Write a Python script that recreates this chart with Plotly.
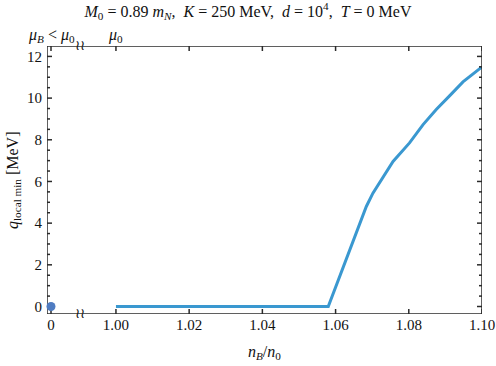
import plotly.graph_objects as go

# data
left_x = [0.0]
left_y = [0.0]
nb_ratio = [1.000, 1.010, 1.020, 1.030, 1.040, 1.050, 1.058, 1.0684, 1.0702, 1.0757,
            1.0802, 1.0839, 1.0875, 1.0912, 1.0948, 1.1000]
q_min = [0.0, 0.0, 0.0, 0.0, 0.0, 0.0, 0.0, 4.80, 5.44, 6.96,
         7.85, 8.73, 9.45, 10.12, 10.78, 11.50]
y_ticks = [0, 2, 4, 6, 8, 10, 12]
y_minor = [v * 0.5 for v in range(0, 25) if v % 4 != 0]
x1_ticks = [0]
x2_ticks = [1.00, 1.02, 1.04, 1.06, 1.08, 1.10]
x2_labels = ["1.00", "1.02", "1.04", "1.06", "1.08", "1.10"]
top_labels = ["<i>μ</i><sub><i>B</i></sub>&nbsp;&lt;&nbsp;<i>μ</i><sub>0</sub>", "<i>μ</i><sub>0</sub>"]

FONT = "Liberation Serif"
AX = "#2a2a2a"
brk = 33 / 435
YR = [-0.36, 12.5]
XR1 = [-0.1, 0.725]
XR2 = [0.99018, 1.10]
PW, PH = 435, 268   # plot area size in px (used for tick lengths)
MAJ, MIN = 5, 3

fig = go.Figure()
fig.add_trace(go.Scatter(x=nb_ratio, y=q_min, mode="lines", xaxis="x2", yaxis="y2",
                         line=dict(color="#3a98d0", width=3), showlegend=False))

ypx = (YR[1] - YR[0]) / PH
x1px = (XR1[1] - XR1[0]) / (PW * brk)
x2px = (XR2[1] - XR2[0]) / (PW * (1 - brk))


def segs(pairs):
    xs, ys = [], []
    for (xa, ya), (xb, yb) in pairs:
        xs += [xa, xb, None]
        ys += [ya, yb, None]
    return xs, ys


p1 = [((XR1[0], YR[0]), (XR1[1], YR[0])), ((XR1[0], YR[1]), (XR1[1], YR[1])),
      ((XR1[0], YR[0]), (XR1[0], YR[1]))]
for v in x1_ticks:
    p1 += [((v, YR[0]), (v, YR[0] + MAJ * ypx)), ((v, YR[1]), (v, YR[1] - MAJ * ypx))]
for vals, ln in ((y_ticks, MAJ), (y_minor, MIN)):
    for v in vals:
        p1.append(((XR1[0], v), (XR1[0] + ln * x1px, v)))
p2 = [((XR2[0], YR[0]), (XR2[1], YR[0])), ((XR2[0], YR[1]), (XR2[1], YR[1])),
      ((XR2[1], YR[0]), (XR2[1], YR[1]))]
for v in x2_ticks:
    p2 += [((v, YR[0]), (v, YR[0] + MAJ * ypx)), ((v, YR[1]), (v, YR[1] - MAJ * ypx))]
for vals, ln in ((y_ticks, MAJ), (y_minor, MIN)):
    for v in vals:
        p2.append(((XR2[1], v), (XR2[1] - ln * x2px, v)))

for xa, ya, pairs in (("x", "y", p1), ("x2", "y2", p2)):
    xs, ys = segs(pairs)
    fig.add_trace(go.Scatter(x=xs, y=ys, mode="lines", xaxis=xa, yaxis=ya, cliponaxis=False,
                             line=dict(color=AX, width=1.5), hoverinfo="skip", showlegend=False))

# axis-break marks
fig.add_trace(go.Scatter(x=[XR1[1], XR1[1]], y=[YR[0], YR[1]], mode="text", text=["≀≀", "≀≀"],
                         textposition="middle center", cliponaxis=False, xaxis="x", yaxis="y",
                         textfont=dict(family="DejaVu Serif", size=14, color="#111"),
                         hoverinfo="skip", showlegend=False))

fig.add_trace(go.Scatter(x=left_x, y=left_y, mode="markers", xaxis="x", yaxis="y", cliponaxis=False,
                         marker=dict(size=9, color="#4f7cc2"), showlegend=False))

tf = dict(family=FONT, size=15, color="#111")
fig.update_layout(
    template="none",
    width=496, height=366, margin=dict(l=47, r=14, t=46, b=52, pad=0),
    paper_bgcolor="white", plot_bgcolor="white",
    font=dict(family=FONT, size=15, color="#111"),
    title=dict(text="<i>M</i><sub>0</sub> = 0.89 <i>m</i><sub><i>N</i></sub>,  <i>K</i> = 250 MeV,  <i>d</i> = 10<sup>4</sup>,  <i>T</i> = 0 MeV",
               x=0.5, xanchor="center", y=0.97, yanchor="middle",
               font=dict(family=FONT, size=16, color="#111")),
    xaxis=dict(domain=[0, brk], range=XR1, tickmode="array", tickvals=x1_ticks,
               ticktext=["0"], anchor="y", showgrid=False, zeroline=False, showline=False,
               ticks="", tickfont=tf),
    xaxis2=dict(domain=[brk, 1], range=XR2, tickmode="array", tickvals=x2_ticks,
                ticktext=x2_labels, anchor="y2", showgrid=False, zeroline=False, showline=False,
                ticks="", tickfont=tf),
    yaxis=dict(domain=[0, 1], anchor="x", range=YR, tickmode="array", tickvals=y_ticks,
               ticktext=[str(v) for v in y_ticks], showgrid=False, zeroline=False,
               showline=False, ticks="", tickfont=tf, ticklabelstandoff=4),
    yaxis2=dict(domain=[0, 1], anchor="x2", range=YR, side="right", showticklabels=False,
                showgrid=False, zeroline=False, showline=False, ticks=""),
)

fig.add_annotation(text="<i>n</i><sub><i>B</i></sub>/<i>n</i><sub>0</sub>", xref="paper", yref="paper",
                   x=0.5, y=0, yshift=-38, yanchor="middle", showarrow=False,
                   font=dict(family=FONT, size=16, color="#111"))
fig.add_annotation(text="<i>q</i><sub>local min</sub> [MeV]", xref="paper", yref="paper",
                   x=0, xshift=-34, xanchor="center", y=0.5, yanchor="middle", textangle=-90,
                   showarrow=False, font=dict(family=FONT, size=16, color="#111"))
fig.add_annotation(text=top_labels[0], xref="x", yref="paper", x=0, y=1, yshift=11,
                   xanchor="center", yanchor="middle", showarrow=False,
                   font=dict(family=FONT, size=16, color="#111"))
fig.add_annotation(text=top_labels[1], xref="x2", yref="paper", x=1.00, y=1, yshift=11,
                   xanchor="center", yanchor="middle", showarrow=False,
                   font=dict(family=FONT, size=16, color="#111"))

fig.write_html("out.html", config={"displayModeBar": False},
               post_script="document.body.style.margin='0';")
